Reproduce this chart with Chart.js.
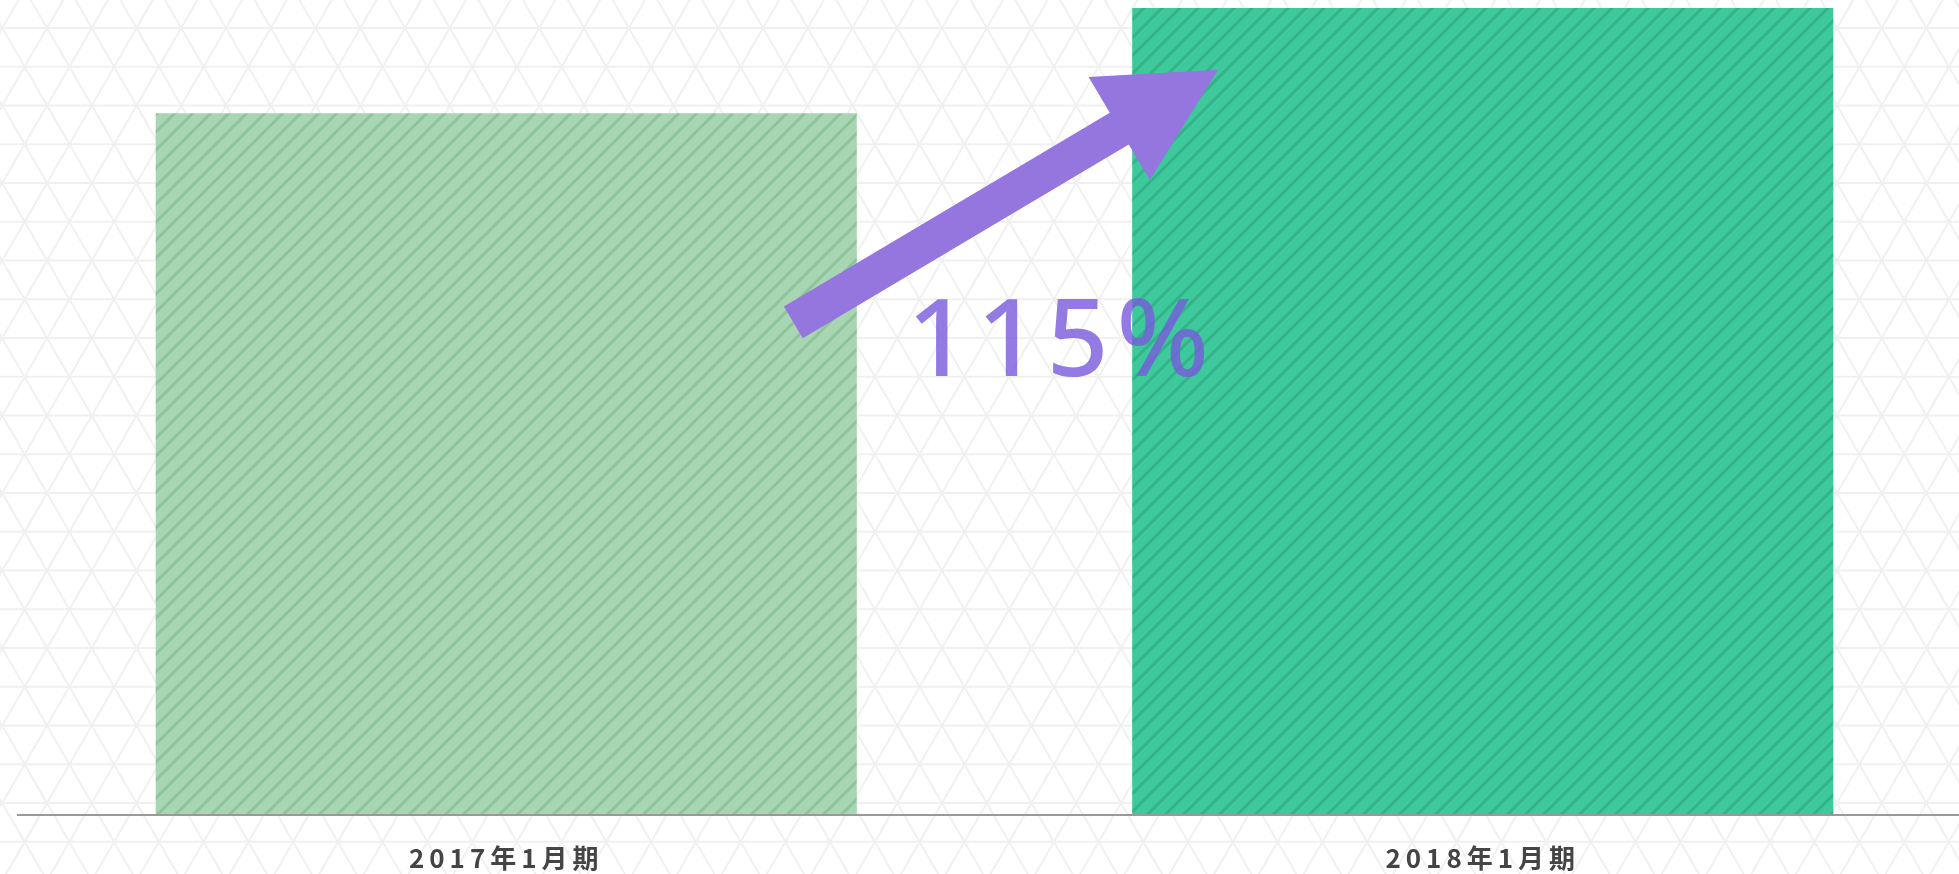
<!DOCTYPE html>
<html lang="ja">
<head>
  <meta charset="utf-8">
  <title>売上比較</title>
  <script src="https://cdn.jsdelivr.net/npm/chart.js@4.4.1/dist/chart.umd.min.js"></script>
  <style>
    html, body { margin: 0; padding: 0; overflow: hidden; background: #fff; }
    #holder { position: absolute; left: 0; top: 0; width: 1975px; height: 874px; }
  </style>
</head>
<body>
  <div id="holder"><canvas id="chart"></canvas></div>
  <script>
    // data
    const periods = ['2017年1月期', '2018年1月期'];
    const sales = [100, 115];
    const growthLabel = ['115%'];
    // arrow + label anchor in data coords (x = category index, y = value)
    const arrowFrom = [0.294, 70.2];
    const arrowTo = [0.729, 106.2];
    const labelAt = [0.565, 67.0];

    function stripes(base, line) {
      const s = 18;
      const c = document.createElement('canvas');
      c.width = s; c.height = s;
      const g = c.getContext('2d');
      g.fillStyle = base;
      g.fillRect(0, 0, s, s);
      g.strokeStyle = line;
      g.lineWidth = 3;
      g.beginPath();
      g.moveTo(-2, s + 2); g.lineTo(s + 2, -2);
      g.moveTo(-2, 2); g.lineTo(2, -2);
      g.moveTo(s - 2, s + 2); g.lineTo(s + 2, s - 2);
      g.stroke();
      return g.createPattern(c, 'repeat');
    }

    const triangleBg = {
      id: 'triangleBg',
      beforeDraw(chart) {
        const ctx = chart.ctx;
        const W = chart.width, H = chart.height;
        const a = 44.75, h = a * Math.sqrt(3) / 2;
        const y0 = 28, x0 = 2.25;
        ctx.save();
        ctx.fillStyle = '#fff';
        ctx.fillRect(0, 0, W, H);
        ctx.strokeStyle = 'rgba(0,0,0,0.06)';
        ctx.lineWidth = 2;
        ctx.beginPath();
        for (let y = y0 - h; y < H + h; y += h) {
          ctx.moveTo(0, y); ctx.lineTo(W, y);
        }
        const span = H + 2 * h;
        const dx = span / Math.tan(Math.PI / 3);
        for (let k = -40; k < 80; k++) {
          const x = x0 + k * a;
          const yt = y0 - 2 * h, yb = yt + span;
          const shift = (y0 - yt) / Math.tan(Math.PI / 3);
          ctx.moveTo(x - shift, yt); ctx.lineTo(x - shift + dx, yb);
          ctx.moveTo(x + shift, yt); ctx.lineTo(x + shift - dx, yb);
        }
        ctx.stroke();
        ctx.restore();
        ctx.letterSpacing = '5px';
      }
    };

    const growthMark = {
      id: 'growthMark',
      afterDraw(chart) {
        const ctx = chart.ctx;
        const xs = chart.scales.x, ys = chart.scales.y;
        const tx = xs.getPixelForValue(arrowFrom[0]), ty = ys.getPixelForValue(arrowFrom[1]);
        const px = xs.getPixelForValue(arrowTo[0]), py = ys.getPixelForValue(arrowTo[1]);
        const ang = Math.atan2(py - ty, px - tx);
        const len = Math.hypot(px - tx, py - ty);
        const shaft = 37, headLen = 115, headW = 120;
        ctx.save();
        ctx.translate(tx, ty);
        ctx.rotate(ang);
        ctx.fillStyle = '#9575de';
        ctx.beginPath();
        ctx.moveTo(0, -shaft / 2);
        ctx.lineTo(len - headLen, -shaft / 2);
        ctx.lineTo(len - headLen, -headW / 2);
        ctx.lineTo(len, 0);
        ctx.lineTo(len - headLen, headW / 2);
        ctx.lineTo(len - headLen, shaft / 2);
        ctx.lineTo(0, shaft / 2);
        ctx.closePath();
        ctx.fill();
        ctx.restore();

        ctx.save();
        ctx.letterSpacing = '8px';
        ctx.font = '500 108px "Noto Sans", sans-serif';
        ctx.fillStyle = 'rgba(120, 90, 220, 0.8)';
        ctx.textAlign = 'center';
        ctx.textBaseline = 'middle';
        ctx.fillText(growthLabel[0], xs.getPixelForValue(labelAt[0]) + 4, ys.getPixelForValue(labelAt[1]));
        ctx.restore();
      }
    };

    const ctx = document.getElementById('chart');
    new Chart(ctx, {
      type: 'bar',
      data: {
        labels: periods,
        datasets: [{
          data: sales,
          backgroundColor: [stripes('#a8d6b2', '#8ec49a'), stripes('#3ec99d', '#33b387')],
          borderWidth: 0,
          categoryPercentage: 1,
          barPercentage: 0.718
        }]
      },
      options: {
        responsive: true,
        maintainAspectRatio: false,
        animation: false,
        layout: { padding: { top: 8, left: 18, right: 4, bottom: 0 } },
        plugins: { legend: { display: false }, tooltip: { enabled: false } },
        scales: {
          y: { display: false, min: 0, max: 115 },
          x: {
            grid: { display: false, drawTicks: false },
            border: { display: true, color: '#999', width: 2, z: 1 },
            ticks: {
              color: '#444',
              padding: 28,
              font: { family: '"Noto Sans CJK JP", sans-serif', size: 26, weight: 'bold' }
            },
            afterFit(scale) { scale.height = 59; }
          }
        }
      },
      plugins: [triangleBg, growthMark]
    });
  </script>
</body>
</html>
